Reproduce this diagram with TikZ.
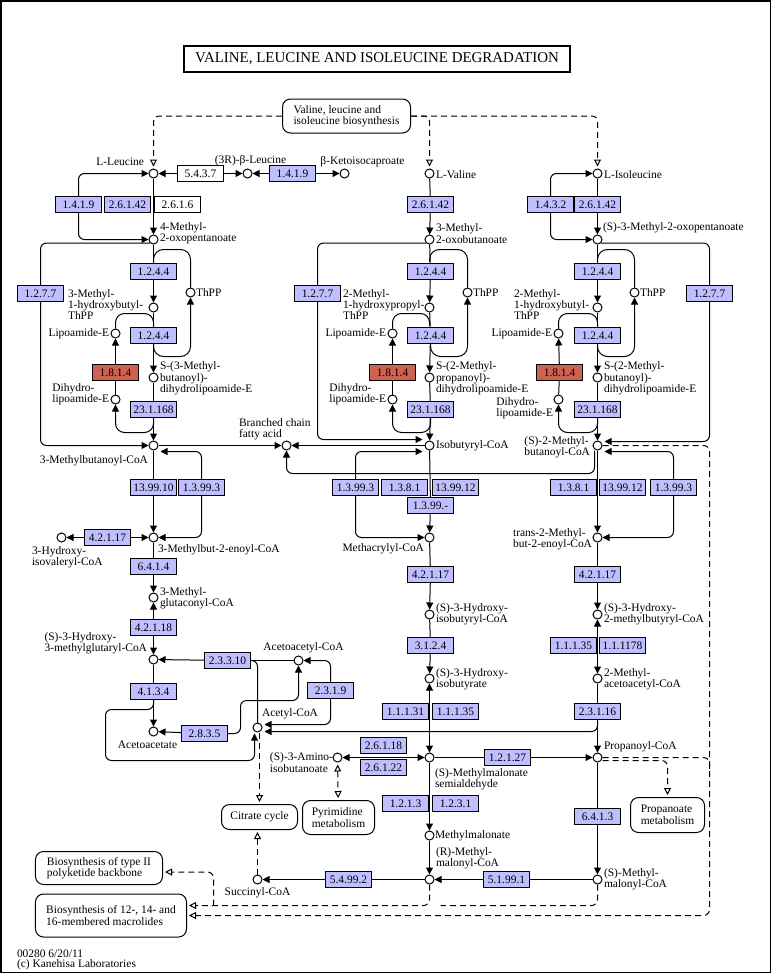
\documentclass[tikz,border=0pt]{standalone}
\usepackage{fontspec}
\setmainfont{Liberation Serif}
\usetikzlibrary{arrows.meta}
\usetikzlibrary{calc}
\definecolor{enzblue}{RGB}{191,191,255}
\definecolor{enzred}{RGB}{208,96,80}

\begin{document}
\begin{tikzpicture}[x=1bp,y=-1bp,line width=1bp,
  cpd/.style={circle,draw,fill=white,minimum size=9bp,inner sep=0pt},
  enz/.style={draw,fill=enzblue,minimum width=46bp,minimum height=16bp,inner sep=0pt,font=\fontsize{11.5}{11.5}\selectfont},
  enzw/.style={enz,fill=white},
  enzr/.style={enz,fill=enzred},
  lbl/.style={inner sep=0pt,align=left,font=\fontsize{11.5}{11.5}\selectfont},
  mapbox/.style={draw,rounded corners=8bp,fill=white,align=left,inner sep=0pt,font=\fontsize{11.5}{11.5}\selectfont},
  rx/.style={-{Triangle[length=7bp,width=7bp]}},
  rxx/.style={{Triangle[length=7bp,width=7bp]}-{Triangle[length=7bp,width=7bp]}},
  dashes/.style={dash pattern=on 6bp off 4bp},
  maplink/.style={dashes,-{Triangle[open,length=7bp,width=7bp,fill=white]},shorten >=2bp},
  maplinkb/.style={dashes,{Triangle[open,length=7bp,width=7bp,fill=white]}-{Triangle[open,length=7bp,width=7bp,fill=white]},shorten >=2bp,shorten <=2bp}]
\useasboundingbox (-0.5,-0.5) rectangle (771.5,973.5);
\draw[line width=1.5bp] (0.5,0.5) rectangle (770,972);
\node[draw,line width=2bp,minimum width=386bp,minimum height=26bp,inner sep=0pt,font=\fontsize{15}{15}\selectfont] (title) at (376.5,58.5) {VALINE, LEUCINE AND ISOLEUCINE DEGRADATION};

\node[mapbox,minimum width=128bp,minimum height=34bp] (biosyn) at (346,115.5) {Valine, leucine and\\isoleucine biosynthesis};
\node[mapbox,minimum width=76bp,minimum height=25bp] (citrate) at (259,816.5) {Citrate cycle};
\node[mapbox,minimum width=72bp,minimum height=34bp] (pyrim) at (338,817) {Pyrimidine\\metabolism};
\node[mapbox,minimum width=74bp,minimum height=35bp] (propan) at (667,814.5) {Propanoate\\metabolism};
\node[mapbox,minimum width=127bp,minimum height=33bp] (pks) at (98.5,867.5) {Biosynthesis of type II\\polyketide backbone};
\node[mapbox,minimum width=151bp,minimum height=43bp] (macro) at (110.5,915) {Biosynthesis of 12-, 14- and\\16-membered macrolides};

\node[cpd] (leu) at (153,173) {};
\node[cpd] (bleu) at (247,173) {};
\node[cpd] (kic) at (344,173) {};
\node[cpd] (moa) at (153,239) {};
\node[cpd] (thpp1) at (190,292) {};
\node[cpd] (mhbt) at (153,307) {};
\node[cpd] (lipo1) at (115,333) {};
\node[cpd] (sdl1) at (153,377) {};
\node[cpd] (dlipo1) at (115,399) {};
\node[cpd] (mbcoa) at (153,445) {};
\node[cpd] (bcfa) at (286,445) {};
\node[cpd] (hivcoa) at (61,537) {};
\node[cpd] (mbecoa) at (153,537) {};
\node[cpd] (mgcoa) at (153,597) {};
\node[cpd] (hmgcoa) at (153,659) {};
\node[cpd] (aacoa) at (298,660) {};
\node[cpd] (acoa) at (257,727) {};
\node[cpd] (acac) at (153,731) {};
\node[cpd] (succ) at (257,879) {};

\node[cpd] (val) at (429,173) {};
\node[cpd] (mob) at (429,239) {};
\node[cpd] (thpp2) at (467,292) {};
\node[cpd] (mhpt) at (429,307) {};
\node[cpd] (lipo2) at (392,333) {};
\node[cpd] (sdl2) at (429,377) {};
\node[cpd] (dlipo2) at (392,399) {};
\node[cpd] (ibcoa) at (429,445) {};
\node[cpd] (macoa) at (429,537) {};
\node[cpd] (hibcoa) at (429,614) {};
\node[cpd] (hib) at (429,678) {};
\node[cpd] (aib) at (337,757) {};
\node[cpd] (mmsa) at (429,757) {};
\node[cpd] (mma) at (429,835) {};
\node[cpd] (rmmcoa) at (429,879) {};

\node[cpd] (ile) at (597,173) {};
\node[cpd] (kmva) at (597,239) {};
\node[cpd] (thpp3) at (634,292) {};
\node[cpd] (mhbt2) at (597,307) {};
\node[cpd] (lipo3) at (558,333) {};
\node[cpd] (sdl3) at (597,377) {};
\node[cpd] (dlipo3) at (558,399) {};
\node[cpd] (mbtcoa) at (597,445) {};
\node[cpd] (tmbcoa) at (597,537) {};
\node[cpd] (hmbcoa) at (597,614) {};
\node[cpd] (maacoa) at (597,678) {};
\node[cpd] (pcoa) at (597,757) {};
\node[cpd] (smmcoa) at (597,879) {};

\node[lbl,anchor=east] (leu-l) at (144,161) {L-Leucine};
\node[lbl] (bleu-l) at (250,160) {(3R)-β-Leucine};
\node[lbl] (kic-l) at (362,161) {β-Ketoisocaproate};
\node[lbl,anchor=west] (moa-l) at (159,233) {4-Methyl-\\2-oxopentanoate};
\node[lbl,anchor=west] (mhbt-l) at (67,304) {3-Methyl-\\1-hydroxybutyl-\\ThPP};
\node[lbl,anchor=west] (thpp1-l) at (195,292) {ThPP};
\node[lbl,anchor=east] (lipo1-l) at (109,333) {Lipoamide-E};
\node[lbl,anchor=west] (sdl1-l) at (159,378) {S-(3-Methyl-\\butanoyl)-\\dihydrolipoamide-E};
\node[lbl,anchor=east] (dlipo1-l) at (109,394) {Dihydro-\\lipoamide-E};
\node[lbl,anchor=east] (mbcoa-l) at (148,460) {3-Methylbutanoyl-CoA};
\node[lbl,anchor=west] (bcfa-l) at (238,429) {Branched chain\\fatty acid};
\node[lbl,anchor=west] (mbecoa-l) at (157,549) {3-Methylbut-2-enoyl-CoA};
\node[lbl,anchor=west] (hivcoa-l) at (31,557) {3-Hydroxy-\\isovaleryl-CoA};
\node[lbl,anchor=west] (mgcoa-l) at (159,598) {3-Methyl-\\glutaconyl-CoA};
\node[lbl,anchor=east] (hmgcoa-l) at (147,643) {(S)-3-Hydroxy-\\3-methylglutaryl-CoA};
\node[lbl] (aacoa-l) at (303,647) {Acetoacetyl-CoA};
\node[lbl,anchor=west] (acoa-l) at (261,713) {Acetyl-CoA};
\node[lbl] (acac-l) at (147,744) {Acetoacetate};
\node[lbl] (succ-l) at (257,892) {Succinyl-CoA};

\node[lbl,anchor=west] (val-l) at (435,174) {L-Valine};
\node[lbl,anchor=west] (mob-l) at (435,233) {3-Methyl-\\2-oxobutanoate};
\node[lbl,anchor=west] (mhpt-l) at (342,304) {2-Methyl-\\1-hydroxypropyl-\\ThPP};
\node[lbl,anchor=west] (thpp2-l) at (472,292) {ThPP};
\node[lbl,anchor=east] (lipo2-l) at (386,333) {Lipoamide-E};
\node[lbl,anchor=west] (sdl2-l) at (435,378) {S-(2-Methyl-\\propanoyl)-\\dihydrolipoamide-E};
\node[lbl,anchor=east] (dlipo2-l) at (386,394) {Dihydro-\\lipoamide-E};
\node[lbl,anchor=west] (ibcoa-l) at (435,445) {Isobutyryl-CoA};
\node[lbl,anchor=east] (macoa-l) at (424,548) {Methacrylyl-CoA};
\node[lbl,anchor=west] (hibcoa-l) at (435,614) {(S)-3-Hydroxy-\\isobutyryl-CoA};
\node[lbl,anchor=west] (hib-l) at (435,679) {(S)-3-Hydroxy-\\isobutyrate};
\node[lbl,anchor=east] (aib-l) at (333,762) {(S)-3-Amino-\\isobutanoate};
\node[lbl,anchor=west] (mmsa-l) at (434,779) {(S)-Methylmalonate\\semialdehyde};
\node[lbl,anchor=west] (mma-l) at (434,835) {Methylmalonate};
\node[lbl,anchor=west] (rmmcoa-l) at (435,858) {(R)-Methyl-\\malonyl-CoA};

\node[lbl,anchor=west] (ile-l) at (603,174) {L-Isoleucine};
\node[lbl,anchor=west] (kmva-l) at (602,227) {(S)-3-Methyl-2-oxopentanoate};
\node[lbl,anchor=west] (mhbt2-l) at (513,304) {2-Methyl-\\1-hydroxybutyl-\\ThPP};
\node[lbl,anchor=west] (thpp3-l) at (639,292) {ThPP};
\node[lbl,anchor=east] (lipo3-l) at (552,333) {Lipoamide-E};
\node[lbl,anchor=west] (sdl3-l) at (603,378) {S-(2-Methyl-\\butanoyl)-\\dihydrolipoamide-E};
\node[lbl,anchor=east] (dlipo3-l) at (553,408) {Dihydro-\\lipoamide-E};
\node[lbl,anchor=east] (mbtcoa-l) at (590,447) {(S)-2-Methyl-\\butanoyl-CoA};
\node[lbl,anchor=east] (tmbcoa-l) at (592,539) {trans-2-Methyl-\\but-2-enoyl-CoA};
\node[lbl,anchor=west] (hmbcoa-l) at (603,614) {(S)-3-Hydroxy-\\2-methylbutyryl-CoA};
\node[lbl,anchor=west] (maacoa-l) at (603,679) {2-Methyl-\\acetoacetyl-CoA};
\node[lbl,anchor=west] (pcoa-l) at (603,746) {Propanoyl-CoA};
\node[lbl,anchor=west] (smmcoa-l) at (603,879) {(S)-Methyl-\\malonyl-CoA};

\node[lbl,anchor=west] (mapid) at (16,953) {00280 6/20/11};
\node[lbl,anchor=west] (copy) at (16,964) {(c) Kanehisa Laboratories};

\node[enzw] (e5437) at (200,173) {5.4.3.7};
\node[enz] (e1419a) at (292,173) {1.4.1.9};
\node[enz] (e1419b) at (78,204) {1.4.1.9};
\node[enz] (e26142a) at (127,204) {2.6.1.42};
\node[enzw] (e2616) at (177,204) {2.6.1.6};
\node[enz] (e1244a) at (153,271) {1.2.4.4};
\node[enz] (e1277a) at (40,293) {1.2.7.7};
\node[enz] (e1244b) at (153,335) {1.2.4.4};
\node[enzr] (e1814a) at (115,372) {1.8.1.4};
\node[enz] (e231168a) at (153,409) {23.1.168};
\node[enz] (e139910) at (153,487) {13.99.10};
\node[enz] (e13993a) at (201,487) {1.3.99.3};
\node[enz] (e42117a) at (107,537) {4.2.1.17};
\node[enz] (e6414) at (153,566) {6.4.1.4};
\node[enz] (e42118) at (153,627) {4.2.1.18};
\node[enz] (e23310) at (227,660) {2.3.3.10};
\node[enz] (e4134) at (153,691) {4.1.3.4};
\node[enz] (e2835) at (204,733) {2.8.3.5};
\node[enz] (e2319) at (330,690) {2.3.1.9};
\node[enz] (e54992) at (348,879) {5.4.99.2};

\node[enz] (e26142b) at (430,204) {2.6.1.42};
\node[enz] (e1244c) at (430,271) {1.2.4.4};
\node[enz] (e1277b) at (317,293) {1.2.7.7};
\node[enz] (e1244d) at (430,335) {1.2.4.4};
\node[enzr] (e1814b) at (392,372) {1.8.1.4};
\node[enz] (e231168b) at (430,409) {23.1.168};
\node[enz] (e13993b) at (355,487) {1.3.99.3};
\node[enz] (e1381a) at (404,487) {1.3.8.1};
\node[enz] (e139912a) at (455,487) {13.99.12};
\node[enz] (e1399x) at (430,505) {1.3.99.-};
\node[enz] (e42117b) at (430,574) {4.2.1.17};
\node[enz] (e3124) at (430,645) {3.1.2.4};
\node[enz] (e11131) at (405,711) {1.1.1.31};
\node[enz] (e11135a) at (455,711) {1.1.1.35};
\node[enz] (e26118) at (383,745) {2.6.1.18};
\node[enz] (e26122) at (383,767) {2.6.1.22};
\node[enz] (e1213) at (405,803) {1.2.1.3};
\node[enz] (e1231) at (455,803) {1.2.3.1};
\node[enz] (e12127) at (507,757) {1.2.1.27};
\node[enz] (e51991) at (506,879) {5.1.99.1};

\node[enz] (e1432) at (550,204) {1.4.3.2};
\node[enz] (e26142c) at (597,204) {2.6.1.42};
\node[enz] (e1244e) at (597,271) {1.2.4.4};
\node[enz] (e1277c) at (709,293) {1.2.7.7};
\node[enz] (e1244f) at (597,335) {1.2.4.4};
\node[enzr] (e1814c) at (559,372) {1.8.1.4};
\node[enz] (e231168c) at (597,409) {23.1.168};
\node[enz] (e1381b) at (573,487) {1.3.8.1};
\node[enz] (e139912b) at (622,487) {13.99.12};
\node[enz] (e13993c) at (673,487) {1.3.99.3};
\node[enz] (e42117c) at (597,574) {4.2.1.17};
\node[enz] (e11135b) at (573,645) {1.1.1.35};
\node[enz] (e111178) at (622,645) {1.1.1178};
\node[enz] (e23116) at (597,711) {2.3.1.16};
\node[enz] (e6413) at (597,816) {6.4.1.3};

\coordinate (mmjoin) at (440,905);
\coordinate (pksjoin) at (213,905);
\coordinate (pjoin) at (709,775);

\draw[maplink,rounded corners=5bp] (biosyn.west) -| (leu);
\draw[maplink,rounded corners=5bp] (biosyn.east) -| (val);
\draw[maplink,rounded corners=5bp] (biosyn.east) -| (ile);

\draw[rx] (e5437) -- (leu);
\draw[rx] (e5437) -- (bleu);
\draw[rx] (e1419a) -- (bleu);
\draw[rx] (e1419a) -- (kic);
\draw[rx,rounded corners=6bp] (e1419b.north) |- (leu);
\draw[rx,rounded corners=6bp] (e1419b.south) |- (moa);
\draw[rx] (leu) -- (moa);
\draw[rounded corners=6bp] (moa.south west) -| (e1277a.north);
\draw[rx,rounded corners=6bp] (e1277a.south) |- (mbcoa);
\draw (moa) -- (e1244a);
\draw[rx] (e1244a) -- (mhbt);
\draw[rounded corners=10bp] ($(moa)+(0,22)$) |- ($(thpp1)+(0,-43)$) -- (thpp1);
\draw (mhbt) -- (e1244b);
\draw[rx] (e1244b) -- (sdl1);
\draw[rx,rounded corners=10bp] (e1244b.south) |- ($(thpp1)+(0,64)$) -- (thpp1);
\draw[rounded corners=9bp] ($(mhbt)+(0,18)$) |- ($(lipo1)+(0,-20)$) -- (lipo1);
\draw[rx] (e1814a) -- (lipo1);
\draw (e1814a) -- (dlipo1);
\draw (sdl1) -- (e231168a);
\draw[rx] (e231168a) -- (mbcoa);
\draw[rx,rounded corners=9bp] (e231168a.south) |- ($(dlipo1)+(0,33)$) -- (dlipo1);
\draw[rx] (mbcoa) -- (bcfa);
\draw[rx] (ibcoa) -- (bcfa);
\draw[rx,rounded corners=6bp] ($(mbtcoa.south)+(-3,0)$) |- ($(bcfa)+(0,28)$) -- (bcfa);
\draw (mbcoa) -- (e139910);
\draw[rx] (e139910) -- (mbecoa);
\draw[rx,rounded corners=6bp] (e13993a.north) |- ($(mbcoa)+(7,6)$);
\draw[rx,rounded corners=6bp] (e13993a.south) |- (mbecoa);
\draw[rx] (e42117a) -- (mbecoa);
\draw[rx] (e42117a) -- (hivcoa);
\draw (mbecoa) -- (e6414);
\draw[rx] (e6414) -- (mgcoa);
\draw[rx] (e42118) -- (mgcoa);
\draw[rx] (e42118) -- (hmgcoa);
\draw[rx] (e23310) -- (hmgcoa);
\draw (aacoa) -- (e23310);
\draw[rounded corners=6bp] (e23310.east) -| (acoa);
\draw (hmgcoa) -- (e4134);
\draw[rx] (e4134) -- (acac);
\draw[rx,rounded corners=6bp] (e4134.south) |- (105,709) |- ($(acoa)+(-3,33)$) -- ($(acoa)+(-3,6)$);
\draw[rx] (e2835) -- (acac);
\draw[rx,rounded corners=6bp] (e2835.east) -| (240,700) -| (aacoa);
\draw[rx,rounded corners=6bp] (e2319.north) |- (aacoa);
\draw[rx,rounded corners=6bp] (e2319.south) |- ($(acoa)+(7,-3)$);
\draw[rx,rounded corners=6bp] (e23116.south) |- ($(acoa)+(7,4)$);
\draw[maplink] (acoa.south -| citrate.north) -- (citrate.north);
\draw[maplink] (succ.north) -- (succ.north |- citrate.south);
\draw (rmmcoa) -- (e54992);
\draw[rx] (e54992) -- (succ);
\draw (smmcoa) -- (e51991);
\draw[rx] (e51991) -- (rmmcoa);

\draw (val) -- (e26142b);
\draw[rx] (e26142b) -- (mob);
\draw[rounded corners=6bp] (mob.south west) -| (e1277b.north);
\draw[rx,rounded corners=6bp] (e1277b.south) |- ($(ibcoa)+(-7,-6)$);
\draw (mob) -- (e1244c);
\draw[rx] (e1244c) -- (mhpt);
\draw[rounded corners=10bp] ($(mob)+(0,22)$) |- ($(thpp2)+(0,-43)$) -- (thpp2);
\draw (mhpt) -- (e1244d);
\draw[rx] (e1244d) -- (sdl2);
\draw[rx,rounded corners=10bp] (e1244d.south) |- ($(thpp2)+(0,64)$) -- (thpp2);
\draw[rounded corners=9bp] ($(mhpt)+(0,18)$) |- ($(lipo2)+(0,-20)$) -- (lipo2);
\draw[rx] (e1814b) -- (lipo2);
\draw (e1814b) -- (dlipo2);
\draw (sdl2) -- (e231168b);
\draw[rx] (e231168b) -- (ibcoa);
\draw[rx,rounded corners=9bp] (e231168b.south) |- ($(dlipo2)+(0,33)$) -- (dlipo2);
\draw (ibcoa) -- (e1399x);
\draw[rx] (e1399x) -- (macoa);
\draw[rx,rounded corners=6bp] (e13993b.north) |- ($(ibcoa)+(-7,6)$);
\draw[rx,rounded corners=6bp] (e13993b.south) |- (macoa);
\draw (macoa) -- (e42117b);
\draw[rx] (e42117b) -- (hibcoa);
\draw (hibcoa) -- (e3124);
\draw[rx] (e3124) -- (hib);
\draw[rxx] (hib) -- (mmsa);
\draw[rxx] (aib) -- (mmsa);
\draw[maplinkb] (aib) -- (pyrim);
\draw[rx] (mmsa) -- (mma);
\draw[rx] (mma) -- (rmmcoa);
\draw (mmsa) -- (e12127);
\draw[rx] (e12127) -- (pcoa);

\draw (ile) -- (e26142c);
\draw[rx] (e26142c) -- (kmva);
\draw[rx,rounded corners=6bp] (e1432.north) |- (ile);
\draw[rx,rounded corners=6bp] (e1432.south) |- (kmva);
\draw[rounded corners=6bp] (kmva.south east) -| (e1277c.north);
\draw[rx,rounded corners=6bp] (e1277c.south) |- ($(mbtcoa)+(7,-4)$);
\draw (kmva) -- (e1244e);
\draw[rx] (e1244e) -- (mhbt2);
\draw[rounded corners=10bp] ($(kmva)+(0,22)$) |- ($(thpp3)+(0,-43)$) -- (thpp3);
\draw (mhbt2) -- (e1244f);
\draw[rx] (e1244f) -- (sdl3);
\draw[rx,rounded corners=10bp] (e1244f.south) |- ($(thpp3)+(0,64)$) -- (thpp3);
\draw[rounded corners=9bp] ($(mhbt2)+(0,18)$) |- ($(lipo3)+(0,-20)$) -- (lipo3);
\draw[rx] (e1814c) -- (lipo3);
\draw (e1814c) -- (dlipo3);
\draw (sdl3) -- (e231168c);
\draw[rx] (e231168c) -- (mbtcoa);
\draw[rx,rounded corners=9bp] (e231168c.south) |- ($(dlipo3)+(0,33)$) -- (dlipo3);
\draw[rx] (mbtcoa) -- (tmbcoa);
\draw[rx,rounded corners=6bp] (e13993c.north) |- ($(mbtcoa)+(7,6)$);
\draw[rx,rounded corners=6bp] (e13993c.south) |- (tmbcoa);
\draw (tmbcoa) -- (e42117c);
\draw[rx] (e42117c) -- (hmbcoa);
\draw[rxx] (hmbcoa) -- (maacoa);
\draw (maacoa) -- (e23116);
\draw[rx] (e23116) -- (pcoa);
\draw (pcoa) -- (e6413);
\draw[rx] (e6413) -- (smmcoa);

\draw[maplink,rounded corners=6bp] (mbtcoa.east) -| (709,915) -- (macro.east);
\draw[dashes,rounded corners=6bp] (pcoa.east) -| (pjoin);
\draw[maplink,rounded corners=6bp] ($(pcoa)+(5,3)$) -| (propan);
\draw[maplink,rounded corners=6bp] (rmmcoa.south) |- ($(macro.east)+(0,-10)$);
\draw[dashes,rounded corners=6bp] (smmcoa.south) |- (mmjoin);
\draw[maplink,rounded corners=6bp] (pksjoin) |- ($(pks.east)+(0,4)$);
\end{tikzpicture}
\end{document}
